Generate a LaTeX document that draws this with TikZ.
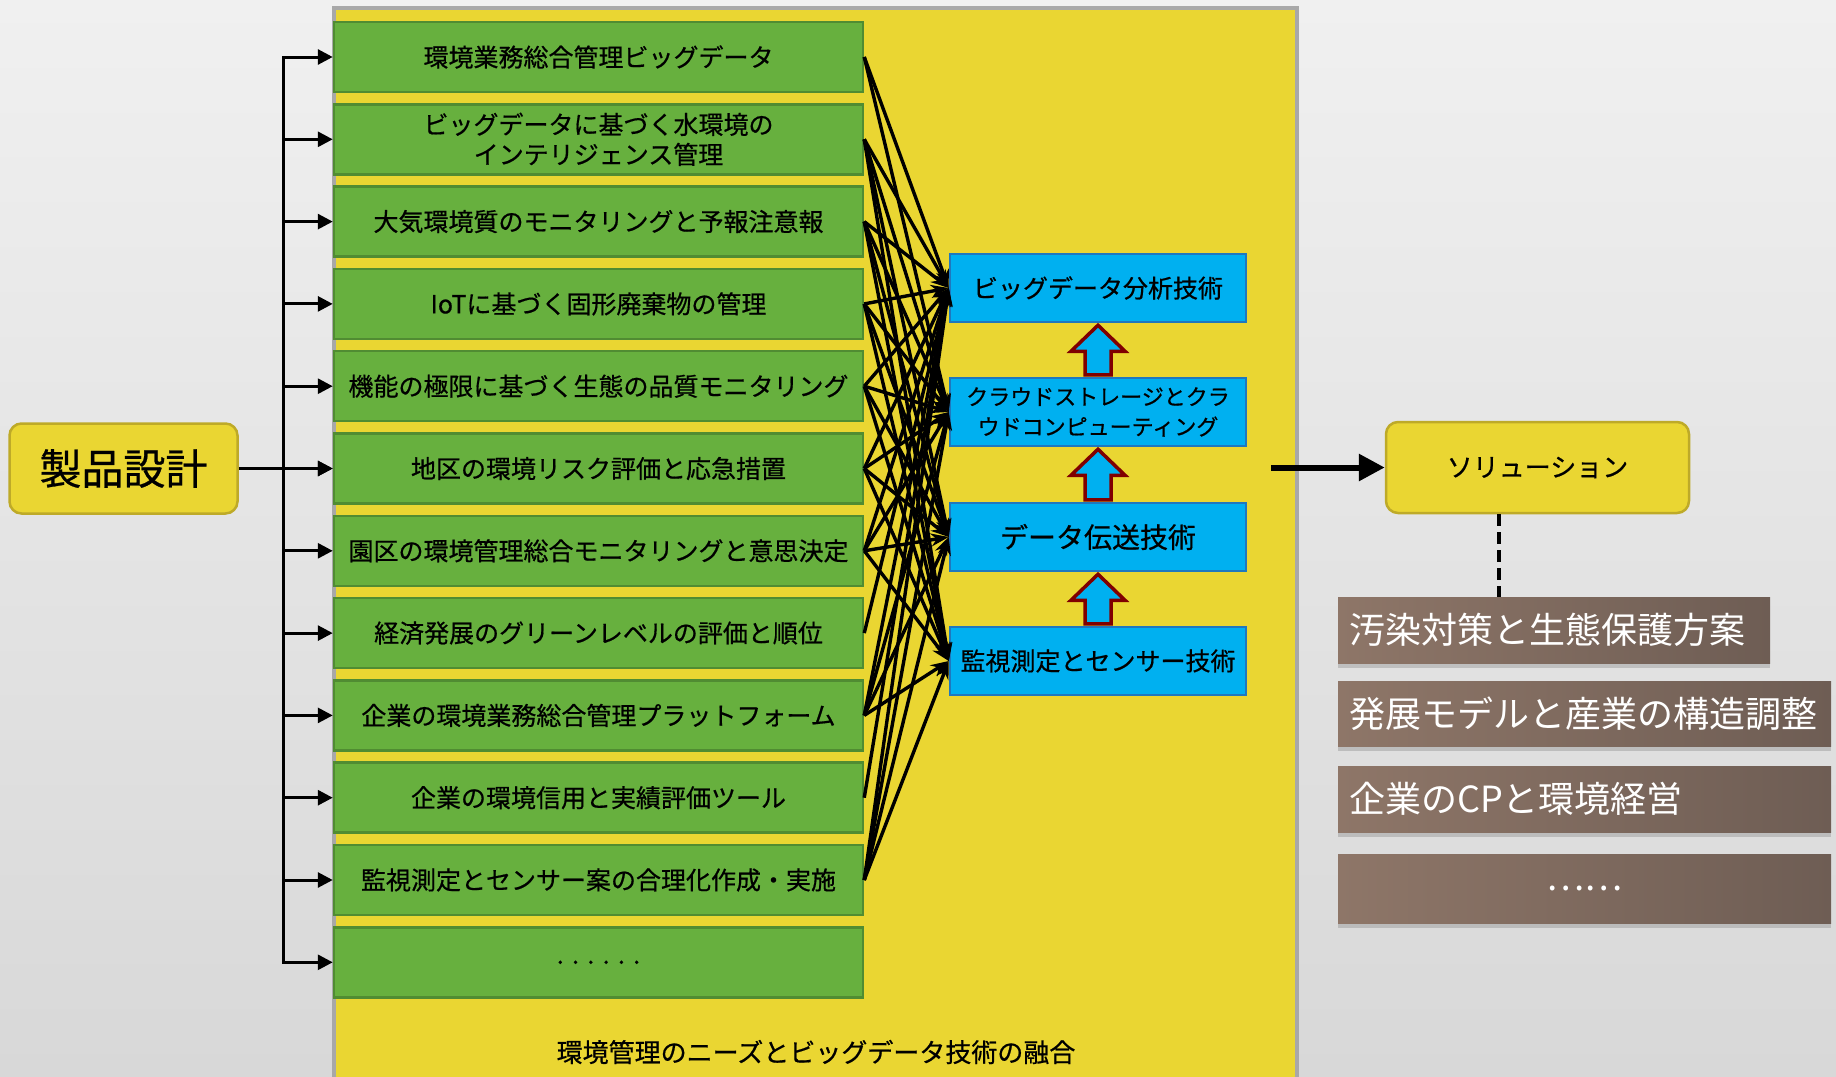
\documentclass[tikz,border=0pt]{standalone}
\usepackage{fontspec}
\setmainfont{Noto Sans CJK JP}
\newfontfamily\hfont[FakeBold=0.6]{Noto Sans CJK JP}
\usetikzlibrary{arrows.meta,calc,shadows}
\definecolor{bg1}{RGB}{240,240,240}
\definecolor{bg2}{RGB}{216,216,216}
\definecolor{ylw}{RGB}{234,214,50}
\definecolor{ylwb}{RGB}{190,170,40}
\definecolor{frm}{RGB}{168,168,168}
\definecolor{grn}{RGB}{103,176,62}
\definecolor{grnb}{RGB}{80,140,50}
\definecolor{blu}{RGB}{0,176,240}
\definecolor{blub}{RGB}{31,120,190}
\definecolor{dred}{RGB}{128,0,0}
\definecolor{brn1}{RGB}{142,118,104}
\definecolor{brn2}{RGB}{110,93,84}
\begin{document}
\begin{tikzpicture}[x=1pt,y=-1pt,
  gbox/.style={draw=grnb,line width=2.5pt,fill=grn,minimum width=529pt,minimum height=70pt,inner sep=0pt,align=center,font=\hfont\fontsize{25}{30}\selectfont},
  bbox/.style={draw=blub,line width=2.5pt,fill=blu,minimum width=296pt,minimum height=68pt,inner sep=0pt,align=center,font=\hfont\fontsize{25}{30}\selectfont},
  rbox/.style={draw=ylwb,line width=2.5pt,fill=ylw,rounded corners=12pt,inner sep=0pt,align=center},
  br/.style={anchor=north west,left color=brn1,right color=brn2,text=white,font=\fontsize{36}{40}\selectfont,minimum height=66pt,inner xsep=11pt,inner ysep=0pt,align=left,drop shadow={shadow xshift=0pt,shadow yshift=-5pt,opacity=0.35}},
  barr/.style={line width=3pt,-{Triangle[length=15pt,width=15pt]}},
  carr/.style={line width=3.4pt,-{Stealth[length=18pt,width=13pt]}},
  uparrow/.style={fill=blu,draw=dred,line width=3.5pt,line join=miter}]
\clip (0,0) rectangle (1836,1076);
\shade[top color=bg1,bottom color=bg2] (0,0) rectangle (1836,1076);
% container
\path[fill=ylw,draw=frm,line width=4pt] (334,8) rectangle (1297,1100);
\node[font=\hfont\fontsize{26}{30}\selectfont] (cap) at (816,1052) {環境管理のニーズとビッグデータ技術の融合};
% green boxes
\foreach \i/\t in {1/{環境業務総合管理ビッグデータ},
  2/{ビッグデータに基づく水環境の\\インテリジェンス管理},
  3/{大気環境質のモニタリングと予報注意報},
  4/{IoTに基づく固形廃棄物の管理},
  5/{機能の極限に基づく生態の品質モニタリング},
  6/{地区の環境リスク評価と応急措置},
  7/{園区の環境管理総合モニタリングと意思決定},
  8/{経済発展のグリーンレベルの評価と順位},
  9/{企業の環境業務総合管理プラットフォーム},
  10/{企業の環境信用と実績評価ツール},
  11/{監視測定とセンサー案の合理化作成・実施},
  12/{.\,\,.\,\,.\,\,.\,\,.\,\,.}}
  \node[gbox] (g\i) at (598.5,{57+(\i-1)*82.3}) {\t};
% blue boxes
\node[bbox] (t1) at (1098,288) {ビッグデータ分析技術};
\node[bbox,font=\hfont\fontsize{22}{30}\selectfont] (t2) at (1098,412) {クラウドストレージとクラ\\ウドコンピューティング};
\node[bbox,font=\hfont\fontsize{28}{32}\selectfont] (t3) at (1098,537) {データ伝送技術};
\node[bbox] (t4) at (1098,661) {監視測定とセンサー技術};
% block arrows
\foreach \a/\b in {t1/t2,t2/t3,t3/t4}
  \draw[uparrow] ($(\a.south)+(0,2)$) -- ++(27,26) -- ++(-14,0) -- ($(\b.north)+(13,-2)$) -- ++(-26,0) -- ($(\a.south)+(-13,28)$) -- ++(-14,0) -- cycle;
% product design
\node[rbox,minimum width=228pt,minimum height=90pt,font=\hfont\fontsize{42}{48}\selectfont] (prod) at (123.5,468.5) {製品設計};
\coordinate (bus) at (283,468.5);
\draw[barr] (prod.east) -- (g6.west);
\foreach \i in {1,...,12} \draw[barr] (bus) |- (g\i.west);
% connectors
\foreach \a/\b in {1/1,1/2,2/1,2/2,2/3,2/4,3/1,3/2,3/3,3/4,4/1,4/2,4/3,4/4,5/1,5/2,5/3,5/4,6/1,6/2,6/3,6/4,7/1,7/2,7/3,7/4,8/1,9/1,9/2,9/3,9/4,10/1,11/1,11/2,11/3,11/4}
  \draw[carr] (g\a.east) -- (t\b.west);
% solution
\node[rbox,minimum width=303pt,minimum height=91pt,font=\hfont\fontsize{26}{30}\selectfont] (sol) at (1537.5,467.5) {ソリューション};
\coordinate (thk) at (1271,467.5);
\draw[line width=6pt,-{Triangle[length=26pt,width=26pt]}] (thk) -- (sol.west);
% brown boxes
\node[br,text width=410pt] (br1) at (1338,597) {汚染対策と生態保護方案};
\node[br,text width=471pt,minimum height=65pt] (br2) at (1338,681) {発展モデルと産業の構造調整};
\node[br,text width=471pt] (br3) at (1338,766) {企業のCPと環境経営};
\node[br,text width=471pt,minimum height=69pt,align=center] (br4) at (1338,854) {……};
\coordinate (dx) at (1499,0);
\draw[line width=4pt,dash pattern=on 12pt off 6pt] (sol.south -| dx) -- (br1.north -| dx);
\end{tikzpicture}
\end{document}
